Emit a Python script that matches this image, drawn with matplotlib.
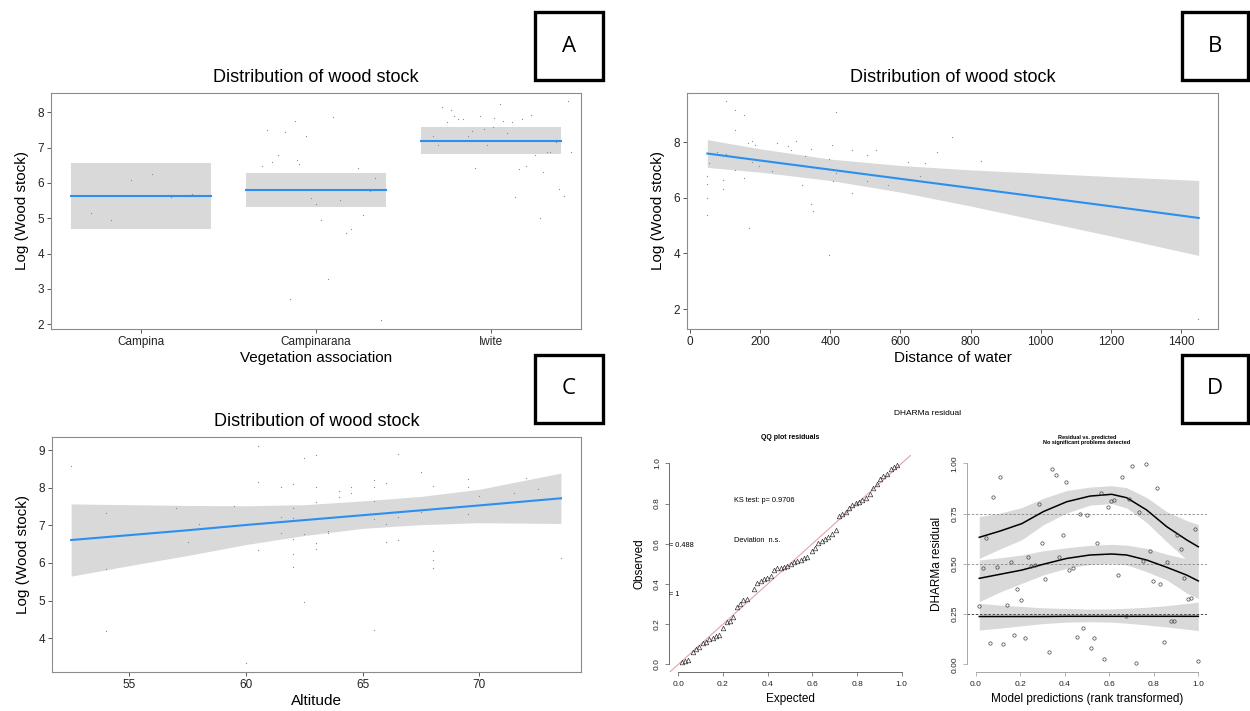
import matplotlib
matplotlib.use("Agg")
import matplotlib.pyplot as plt
from matplotlib.patches import Rectangle

plt.rcParams['font.family'] = ['Liberation Sans', 'DejaVu Sans']

W, H = 1250, 711

# ---- panel A : wood stock by vegetation association
A_categories = ['Campina', 'Campinarana', 'Iwite']
A_fit = [5.62, 5.79, 7.20]
A_lower = [4.69, 5.32, 6.81]
A_upper = [6.56, 6.28, 7.59]
A_campina_x = [0.715, 0.83, 0.94, 1.06, 1.17, 1.29]
A_campina_y = [5.15, 4.96, 6.08, 6.25, 5.61, 5.70]
A_campinarana_x = [1.69, 1.72, 1.75, 1.78, 1.82, 1.85, 1.88, 1.89, 1.90, 1.94, 1.97, 2.0,
                   2.03, 2.07, 2.10, 2.14, 2.17, 2.2, 2.24, 2.27, 2.31, 2.34, 2.37]
A_campinarana_y = [6.47, 7.51, 6.59, 6.80, 7.44, 2.71, 7.75, 6.65, 6.53, 7.34, 5.56, 5.41,
                   4.95, 3.29, 7.88, 5.51, 4.59, 4.69, 6.41, 5.09, 5.77, 6.13, 2.11]
A_iwite_x = [2.67, 2.70, 2.72, 2.75, 2.77, 2.79, 2.81, 2.84, 2.87, 2.89, 2.91, 2.94, 2.96,
             2.98, 3.01, 3.02, 3.05, 3.07, 3.09, 3.12, 3.14, 3.16, 3.18, 3.20, 3.23, 3.25,
             3.28, 3.30, 3.32, 3.34, 3.37, 3.39, 3.42, 3.44, 3.46]
A_iwite_y = [7.32, 7.08, 8.14, 7.73, 8.08, 7.90, 7.80, 7.81, 7.32, 7.46, 6.43, 7.90, 7.52,
             7.07, 7.58, 7.85, 8.24, 7.75, 7.43, 7.72, 5.61, 6.39, 7.82, 6.47, 7.92, 6.79,
             5.00, 6.32, 6.87, 6.89, 7.15, 5.84, 5.64, 8.32, 6.87]

# ---- panel B : distance of water
B_x = [49, 49, 49, 49, 54, 78, 95, 95, 103, 103, 130, 130, 130, 155, 155, 166, 169, 178,
       178, 187, 198, 235, 249, 281, 287, 304, 321, 329, 344, 344, 352, 396, 396, 404, 407,
       416, 416, 462, 462, 505, 505, 531, 565, 623, 655, 671, 703, 746, 829, 1448]
B_y = [6.8, 6.5, 6.0, 5.4, 7.25, 7.67, 6.65, 6.32, 9.5, 7.6, 9.15, 8.46, 7.02, 8.97, 6.73,
       7.98, 4.91, 8.04, 7.28, 7.92, 7.14, 6.96, 7.98, 7.86, 7.74, 8.04, 6.48, 7.5, 7.77,
       5.80, 5.53, 7.41, 3.96, 7.92, 6.6, 9.09, 6.9, 7.74, 6.18, 7.56, 6.6, 7.74, 6.46,
       7.28, 6.78, 7.26, 7.64, 8.18, 7.33, 1.63]
B_band_x = [50, 200, 400, 600, 800, 1000, 1200, 1450]
B_fit = [7.60, 7.35, 7.02, 6.69, 6.36, 6.03, 5.70, 5.28]
B_upper = [8.10, 7.77, 7.40, 7.17, 7.01, 6.89, 6.77, 6.63]
B_lower = [7.10, 6.93, 6.63, 6.21, 5.71, 5.17, 4.63, 3.93]

# ---- panel C : altitude
C_x = [52.5, 54, 54, 54, 57, 57.5, 58, 59.5, 60, 60.5, 60.5, 60.5, 60.5, 61.5, 61.5, 61.5,
       62, 62, 62, 62, 62, 62, 62.5, 62.5, 62.5, 63, 63, 63, 63, 63, 63.5, 63.5, 64, 64,
       64.5, 64.5, 65.5, 65.5, 65.5, 65.5, 65.5, 66, 66, 66, 66.5, 66.5, 66.5, 67.5, 67.5,
       68, 68, 68, 68, 69.5, 69.5, 69.5, 70, 71.5, 72, 72.5, 73.5]
C_y = [8.58, 7.33, 5.85, 4.20, 7.46, 6.57, 7.03, 7.52, 3.33, 9.12, 8.14, 7.03, 6.35, 8.03,
       7.23, 6.81, 8.09, 7.45, 7.19, 6.64, 6.23, 5.9, 8.80, 6.77, 4.96, 8.88, 8.03, 7.63,
       6.52, 6.36, 6.86, 6.79, 7.91, 7.76, 8.01, 7.87, 8.21, 8.01, 7.66, 7.16, 4.22, 8.12,
       7.04, 6.57, 8.89, 7.22, 6.62, 8.42, 7.35, 8.04, 6.33, 6.08, 5.86, 8.22, 8.03, 7.30,
       7.77, 7.87, 8.27, 7.97, 6.13]
C_band_x = [52.5, 55, 57.5, 60, 62.5, 65, 67.5, 70, 73.5]
C_fit = [6.61, 6.74, 6.87, 7.01, 7.14, 7.27, 7.40, 7.53, 7.72]
C_upper = [7.57, 7.55, 7.53, 7.52, 7.55, 7.65, 7.77, 7.96, 8.39]
C_lower = [5.65, 5.93, 6.20, 6.49, 6.73, 6.92, 7.02, 7.07, 7.05]

# ---- panel D : DHARMa residual diagnostics
qq_expected = [0.015, 0.03, 0.045, 0.064, 0.079, 0.094, 0.109, 0.124, 0.139, 0.154, 0.169,
               0.184, 0.2, 0.216, 0.231, 0.246, 0.261, 0.276, 0.291, 0.309, 0.339, 0.354,
               0.369, 0.384, 0.399, 0.413, 0.428, 0.443, 0.458, 0.473, 0.488, 0.503, 0.518,
               0.533, 0.548, 0.563, 0.578, 0.597, 0.612, 0.627, 0.642, 0.657, 0.672, 0.687,
               0.704, 0.719, 0.734, 0.749, 0.764, 0.779, 0.794, 0.809, 0.824, 0.839, 0.858,
               0.873, 0.888, 0.903, 0.918, 0.933, 0.951, 0.966, 0.981]
qq_observed = [0.01, 0.017, 0.022, 0.06, 0.075, 0.088, 0.104, 0.109, 0.124, 0.129, 0.141,
               0.146, 0.18, 0.209, 0.217, 0.237, 0.287, 0.299, 0.318, 0.325, 0.375, 0.403,
               0.415, 0.423, 0.428, 0.441, 0.469, 0.478, 0.481, 0.483, 0.491, 0.498, 0.507,
               0.514, 0.519, 0.527, 0.536, 0.565, 0.577, 0.602, 0.614, 0.624, 0.635, 0.647,
               0.668, 0.74, 0.746, 0.756, 0.779, 0.793, 0.804, 0.809, 0.818, 0.826, 0.847,
               0.876, 0.896, 0.920, 0.936, 0.948, 0.97, 0.98, 0.99]
res_pred = [0.016, 0.031, 0.046, 0.064, 0.076, 0.094, 0.109, 0.124, 0.139, 0.157, 0.172,
            0.187, 0.202, 0.220, 0.235, 0.250, 0.265, 0.283, 0.298, 0.313, 0.328, 0.344,
            0.359, 0.374, 0.391, 0.406, 0.421, 0.436, 0.454, 0.469, 0.484, 0.498, 0.516,
            0.531, 0.546, 0.561, 0.578, 0.593, 0.608, 0.623, 0.641, 0.656, 0.674, 0.689,
            0.704, 0.719, 0.735, 0.751, 0.765, 0.783, 0.798, 0.813, 0.828, 0.844, 0.859,
            0.876, 0.891, 0.906, 0.922, 0.937, 0.952, 0.969, 0.985, 1.0]
res_val = [0.289, 0.481, 0.627, 0.108, 0.834, 0.483, 0.930, 0.100, 0.295, 0.509, 0.148,
           0.375, 0.322, 0.133, 0.532, 0.491, 0.494, 0.799, 0.605, 0.425, 0.060, 0.973,
           0.940, 0.534, 0.643, 0.907, 0.469, 0.481, 0.136, 0.750, 0.182, 0.741, 0.083,
           0.129, 0.604, 0.854, 0.025, 0.783, 0.814, 0.818, 0.446, 0.930, 0.239, 0.824,
           0.988, 0.008, 0.758, 0.516, 0.997, 0.566, 0.416, 0.877, 0.401, 0.109, 0.511,
           0.214, 0.214, 0.642, 0.575, 0.428, 0.325, 0.332, 0.672, 0.017]
quant_x = [0.016, 0.109, 0.207, 0.304, 0.409, 0.513, 0.611, 0.678, 0.768, 0.858, 0.948, 1.0]
q75 = [0.632, 0.663, 0.70, 0.76, 0.809, 0.837, 0.846, 0.829, 0.768, 0.685, 0.619, 0.585]
q75_hi = [0.735, 0.752, 0.78, 0.826, 0.865, 0.882, 0.889, 0.879, 0.83, 0.76, 0.715, 0.695]
q75_lo = [0.527, 0.574, 0.62, 0.695, 0.753, 0.792, 0.80, 0.778, 0.706, 0.61, 0.52, 0.475]
q50 = [0.428, 0.448, 0.469, 0.498, 0.527, 0.544, 0.549, 0.544, 0.519, 0.483, 0.444, 0.415]
q50_hi = [0.519, 0.53, 0.544, 0.565, 0.58, 0.592, 0.597, 0.593, 0.577, 0.548, 0.525, 0.519]
q50_lo = [0.312, 0.36, 0.403, 0.445, 0.478, 0.497, 0.502, 0.495, 0.461, 0.42, 0.355, 0.328]
q25 = [0.238, 0.238, 0.238, 0.238, 0.239, 0.239, 0.239, 0.239, 0.239, 0.239, 0.239, 0.239]
q25_hi = [0.303, 0.295, 0.288, 0.281, 0.278, 0.275, 0.276, 0.279, 0.284, 0.292, 0.303, 0.31]
q25_lo = [0.171, 0.18, 0.192, 0.203, 0.21, 0.212, 0.21, 0.205, 0.196, 0.186, 0.175, 0.168]

BLUE = '#2b8ff0'
BAND = '#d9d9d9'
PT = '#8a8a8a'

fig = plt.figure(figsize=(W / 100, H / 100), dpi=100)
fig.patch.set_facecolor('white')


def px_axes(l, t, r, b):
    return fig.add_axes([l / W, 1 - b / H, (r - l) / W, (b - t) / H])


def ftext(x, y, s, **kw):
    fig.text(x / W, 1 - y / H, s, **kw)


def gg_style(ax):
    for sp in ax.spines.values():
        sp.set_color('#8c8c8c')
        sp.set_linewidth(0.8)
    ax.tick_params(length=3, width=0.7, color='#555555', labelsize=8.5,
                   labelcolor='#222222', pad=2)


def letter_box(l, t, r, b, s):
    fig.patches.append(Rectangle((l / W, 1 - b / H), (r - l) / W, (b - t) / H,
                                 transform=fig.transFigure, fill=False,
                                 edgecolor='black', linewidth=2.4))
    ftext((l + r) / 2, (t + b) / 2, s, ha='center', va='center', fontsize=16,
          family=['Open Sans', 'DejaVu Sans'])


# A
ax = px_axes(51, 93, 581, 329)
pos = [1, 2, 3]
ax.bar(pos, [u - l for u, l in zip(A_upper, A_lower)], bottom=A_lower, width=0.8,
       color=BAND, zorder=1)
for p, f in zip(pos, A_fit):
    ax.plot([p - 0.4, p + 0.4], [f, f], color=BLUE, lw=1.5, zorder=2)
for xs, ys in [(A_campina_x, A_campina_y), (A_campinarana_x, A_campinarana_y),
               (A_iwite_x, A_iwite_y)]:
    ax.scatter(xs, ys, s=0.8, color=PT, linewidths=0, zorder=3)
ax.set_xlim(0.485, 3.515)
ax.set_ylim(1.86, 8.55)
ax.set_xticks(pos)
ax.set_xticklabels(A_categories)
ax.set_yticks(range(2, 9))
gg_style(ax)
ax.set_title('Distribution of wood stock', fontsize=13, pad=8)
ax.set_xlabel('Vegetation association', fontsize=11, labelpad=2)
ax.set_ylabel('Log (Wood stock)', fontsize=11, labelpad=6)

# B
ax = px_axes(687, 93, 1218, 329)
ax.fill_between(B_band_x, B_lower, B_upper, color=BAND, lw=0, zorder=1)
ax.plot(B_band_x, B_fit, color=BLUE, lw=1.5, zorder=2)
ax.scatter(B_x, B_y, s=0.8, color=PT, linewidths=0, zorder=3)
ax.set_xlim(-8, 1505)
ax.set_ylim(1.28, 9.78)
ax.set_xticks(range(0, 1401, 200))
ax.set_yticks([2, 4, 6, 8])
gg_style(ax)
ax.set_title('Distribution of wood stock', fontsize=13, pad=8)
ax.set_xlabel('Distance of water', fontsize=11, labelpad=2)
ax.set_ylabel('Log (Wood stock)', fontsize=11, labelpad=6)

# C
ax = px_axes(52, 437, 581, 672)
ax.fill_between(C_band_x, C_lower, C_upper, color=BAND, lw=0, zorder=1)
ax.plot(C_band_x, C_fit, color=BLUE, lw=1.5, zorder=2)
ax.scatter(C_x, C_y, s=0.8, color=PT, linewidths=0, zorder=3)
ax.set_xlim(51.68, 74.36)
ax.set_ylim(3.10, 9.35)
ax.set_xticks([55, 60, 65, 70])
ax.set_yticks(range(4, 10))
gg_style(ax)
ax.set_title('Distribution of wood stock', fontsize=13, pad=8)
ax.set_xlabel('Altitude', fontsize=11, labelpad=2)
ax.set_ylabel('Log (Wood stock)', fontsize=11, labelpad=6)


def r_style(ax, ylabels, spine_col):
    for s in ['top', 'right']:
        ax.spines[s].set_visible(False)
    for s in ['left', 'bottom']:
        ax.spines[s].set_bounds(0, 1)
        ax.spines[s].set_color(spine_col)
        ax.spines[s].set_linewidth(0.6)
    ax.set_xlim(-0.04, 1.04)
    ax.set_ylim(-0.04, 1.04)
    xt = [0, 0.2, 0.4, 0.6, 0.8, 1.0]
    ax.set_xticks(xt)
    ax.set_xticklabels(['%.1f' % v for v in xt])
    yt = [float(v) for v in ylabels]
    ax.set_yticks(yt)
    ax.set_yticklabels(ylabels, rotation=90, va='center')
    ax.tick_params(length=3, width=0.5, color=spine_col, labelsize=6, pad=3,
                   labelcolor='#222222')


# D - QQ plot
ax = px_axes(669.4, 455.3, 910.6, 672.4)
r_style(ax, ['0.0', '0.2', '0.4', '0.6', '0.8', '1.0'], '#555555')
ax.axline((0, 0), (1, 1), color='#e3a3ac', lw=0.8, zorder=1)
ax.plot(qq_expected, qq_observed, ls='none', marker='^', ms=3.3, mfc='none',
        mec='#333333', mew=0.5, zorder=2)
ax.set_title('QQ plot residuals', fontsize=5, fontweight='bold', pad=12)
ax.set_xlabel('Expected', fontsize=8.5, labelpad=4)
ax.set_ylabel('Observed', fontsize=8.5, labelpad=6)
ax.text(0.25, 0.81, 'KS test: p= 0.9706', fontsize=5.3)
ax.text(0.25, 0.61, 'Deviation  n.s.', fontsize=5.3)
ax.text(-0.04, 0.59, '= 0.488', fontsize=5.3, va='center')
ax.text(-0.04, 0.35, '= 1', fontsize=5.3, va='center')

# D - residual vs predicted
ax = px_axes(966.8, 455.3, 1207.2, 672.4)
r_style(ax, ['0.00', '0.25', '0.50', '0.75', '1.00'], '#999999')
for lo, hi in [(q75_lo, q75_hi), (q50_lo, q50_hi), (q25_lo, q25_hi)]:
    ax.fill_between(quant_x, lo, hi, color=BAND, lw=0, zorder=1)
for lvl, col in [(0.75, '#8a8a8a'), (0.5, '#8a8a8a'), (0.25, '#333333')]:
    ax.axhline(lvl, color=col, lw=0.6, ls=(0, (3, 2)), zorder=2)
for q in [q75, q50, q25]:
    ax.plot(quant_x, q, color='black', lw=1.1, zorder=3)
ax.plot(res_pred, res_val, ls='none', marker='o', ms=2.4, mfc='none',
        mec='#444444', mew=0.5, zorder=4)
ax.set_title('Residual vs. predicted\nNo significant problems detected', fontsize=4,
             fontweight='bold', pad=8, linespacing=1.1)
ax.set_xlabel('Model predictions (rank transformed)', fontsize=8.5, labelpad=4)
ax.set_ylabel('DHARMa residual', fontsize=8.5, labelpad=6)

ftext(928, 413, 'DHARMa residual', ha='center', va='center', fontsize=6)

letter_box(535, 12, 603, 80, 'A')
letter_box(1182, 12, 1248, 80, 'B')
letter_box(535, 355, 603, 423, 'C')
letter_box(1182, 355, 1248, 423, 'D')

fig.savefig('out.png', dpi=100, facecolor='white')
